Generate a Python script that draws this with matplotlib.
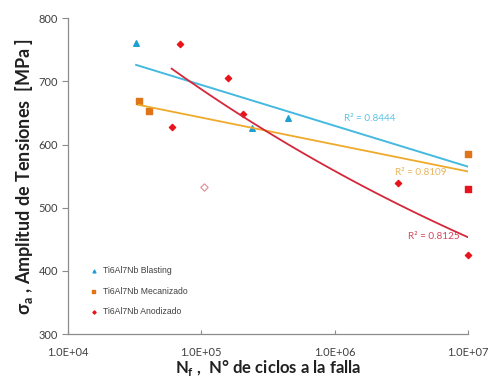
import matplotlib
matplotlib.use("Agg")
import matplotlib.pyplot as plt
import numpy as np

# Ti6Al7Nb fatigue data: cycles to failure vs stress amplitude (MPa)
blasting_n = [3.25e4, 2.4e5, 4.5e5, 1.0e7]
blasting_s = [760, 626, 642, 585]

mecanizado_n = [3.4e4, 4.05e4, 1.0e7, 1.0e7]
mecanizado_s = [669, 653, 585, 530]
mecanizado_colors = ["#e07418", "#e07418", "#e07418", "#e8141c"]

anodizado_n = [6.9e4, 1.58e5, 2.05e5, 6.0e4, 3.0e6, 1.0e7]
anodizado_s = [759, 705, 648, 628, 539, 425]

outlier_n = [1.05e5]
outlier_s = [533]

r2_labels = ["R² = 0.8444", "R² = 0.8109", "R² = 0.8125"]

C_BLAST = "#1d9fd3"
C_BLAST_LINE = "#45b9e0"
C_MEC = "#e07418"
C_MEC_LINE = "#eeaa2a"
C_ANO = "#e8141c"
C_ANO_LINE = "#d4283a"


def log_fit(n, s):
    # excel "logarithmic" trendline: s = a*ln(n) + b
    a, b = np.polyfit(np.log(n), s, 1)
    xs = np.logspace(np.log10(min(n)), np.log10(max(n)), 100)
    return xs, a * np.log(xs) + b


def power_fit(n, s):
    # excel "power" trendline: s = c*n^b
    b, lc = np.polyfit(np.log(n), np.log(s), 1)
    xs = np.logspace(np.log10(min(n)), np.log10(max(n)), 100)
    return xs, np.exp(lc) * xs ** b


fig = plt.figure(figsize=(4.92, 3.78), dpi=100)
ax = fig.add_axes([0.138, 0.116, 0.813, 0.836])

ax.scatter(blasting_n, blasting_s, marker="^", s=16, color=C_BLAST, zorder=3,
           clip_on=False, label="Ti6Al7Nb Blasting")
ax.scatter(mecanizado_n, mecanizado_s, marker="s", s=20, color=mecanizado_colors,
           zorder=3.5, clip_on=False, label="Ti6Al7Nb Mecanizado")
ax.scatter(anodizado_n, anodizado_s, marker="D", s=10, color=C_ANO, zorder=3.6,
           clip_on=False, label="Ti6Al7Nb Anodizado")
ax.scatter(outlier_n, outlier_s, marker="D", s=14, facecolor="white",
           edgecolor="#e08a98", linewidth=0.8, zorder=3)

xs, ys = log_fit(blasting_n, blasting_s)
ax.plot(xs, ys, color=C_BLAST_LINE, linewidth=1.4, zorder=4)
xs, ys = log_fit(mecanizado_n, mecanizado_s)
ax.plot(xs, ys, color=C_MEC_LINE, linewidth=1.3, zorder=4)
xs, ys = power_fit(anodizado_n, anodizado_s)
ax.plot(xs, ys, color=C_ANO_LINE, linewidth=1.3, zorder=4)

ax.text(1.85e6, 642, r2_labels[0], color="#5cc4e6", fontsize=7.2, family="Lato",
        ha="center", va="center")
ax.text(4.4e6, 555, r2_labels[1], color="#e8b460", fontsize=7.2, family="Lato",
        ha="center", va="center")
ax.text(5.6e6, 455, r2_labels[2], color="#d4485a", fontsize=7.2, family="Lato",
        ha="center", va="center")

ax.set_xscale("log")
ax.set_xlim(1e4, 1e7)
ax.set_ylim(300, 800)
ax.set_xticks([1e4, 1e5, 1e6, 1e7])
ax.set_xticklabels(["1.0E+04", "1.0E+05", "1.0E+06", "1.0E+07"])
ax.minorticks_off()
ax.set_yticks([300, 400, 500, 600, 700, 800])

for side in ["top", "right"]:
    ax.spines[side].set_visible(False)
for side in ["left", "bottom"]:
    ax.spines[side].set_color("#8c8c8c")
    ax.spines[side].set_linewidth(0.9)

ax.tick_params(axis="y", direction="out", length=4, color="#8c8c8c",
               labelsize=8, labelcolor="#404040", pad=3)
ax.tick_params(axis="x", direction="in", length=3, color="#8c8c8c",
               labelsize=8, labelcolor="#404040", pad=9)
for lbl in ax.get_xticklabels() + ax.get_yticklabels():
    lbl.set_family("Lato")

ax.set_xlabel(r"N$_\mathregular{f}$ ,  N° de ciclos a la falla", fontsize=12,
              fontweight="bold", family="Lato", color="#202020", labelpad=0)
ax.set_ylabel(r"σ$_\mathregular{a}$ , Amplitud de Tensiones  [MPa ]", fontsize=13,
              fontweight="bold", family="Lato", color="#202020", labelpad=3)

leg = ax.legend(loc="lower left", bbox_to_anchor=(0.03, 0.04), frameon=False,
                handletextpad=0.05, labelspacing=1.35,
                markerscale=0.5, borderaxespad=0.2,
                prop={"family": "Liberation Sans", "size": 6.2})
for t in leg.get_texts():
    t.set_color("#404040")

fig.savefig("out.png", dpi=100, facecolor="white")
